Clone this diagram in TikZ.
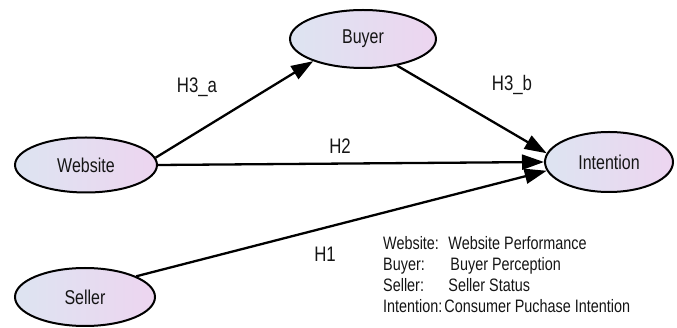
\documentclass[tikz,border=0pt]{standalone}
\usepackage{fontspec}
\setmainfont{Liberation Sans}[FakeStretch=0.8]
\usetikzlibrary{arrows, arrows.meta}
\usetikzlibrary{positioning}
\usetikzlibrary{shapes.geometric}
\usepackage{xcolor}

\definecolor{varleft}{HTML}{DDE4F1}
\definecolor{varright}{HTML}{EDD5F0}
\definecolor{ink}{HTML}{151515}

\tikzset{
	var/.style={ellipse, draw=black, line width=2pt, left color=varleft, right color=varright,
		inner sep=0pt, text=ink, font=\fontsize{20}{22}\selectfont},
	path/.style={line width=2.3pt, -{Triangle[length=22pt,width=15pt]}},
	hyp/.style={text=ink, font=\fontsize{21}{23}\selectfont}
}

\begin{document}
\begin{tikzpicture}[x=1pt, y=-1pt] % research model
	
	\useasboundingbox (0,0) rectangle (677,328);
	
	%latent variables
	\node[var, minimum width=142pt, minimum height=55pt] (website) at (86,165) {Website};
	\node[var, minimum width=146pt, minimum height=58pt] (buyer) at (363,39) {Buyer};
	\node[var, minimum width=128pt, minimum height=60pt] (intention) at (609,162) {Intention};
	\node[var, minimum width=140pt, minimum height=58pt] (seller) at (85,297) {Seller};
	
	%arrows
	\draw[path] (website.6) -- (buyer.204);
	\draw[path] (buyer.-38) -- (intention.172);
	\draw[path] (website.east) -- (intention.west);
	\draw[path] (seller.22) -- (intention.188);
	
	%labels
	\node[hyp] (h3a) at (197,87) {H3\_a};
	\node[hyp] (h3b) at (512,85) {H3\_b};
	\node[hyp] (h2) at (340,146) {H2};
	\node[hyp] (h1) at (325,254) {H1};
	
	%legend
	\node[anchor=north west, inner sep=0pt, text=ink, font=\fontsize{18}{21}\selectfont] (legend) at (383,235) {%
		\begin{tabular}{@{}l@{\hspace{2pt}}l@{}}
			Website: & \hspace{4pt}Website Performance\\
			Buyer: & \hspace{6pt}Buyer Perception\\
			Seller: & \hspace{4pt}Seller Status\\
			Intention: & Consumer Puchase Intention
		\end{tabular}};
	
\end{tikzpicture}
\end{document}
